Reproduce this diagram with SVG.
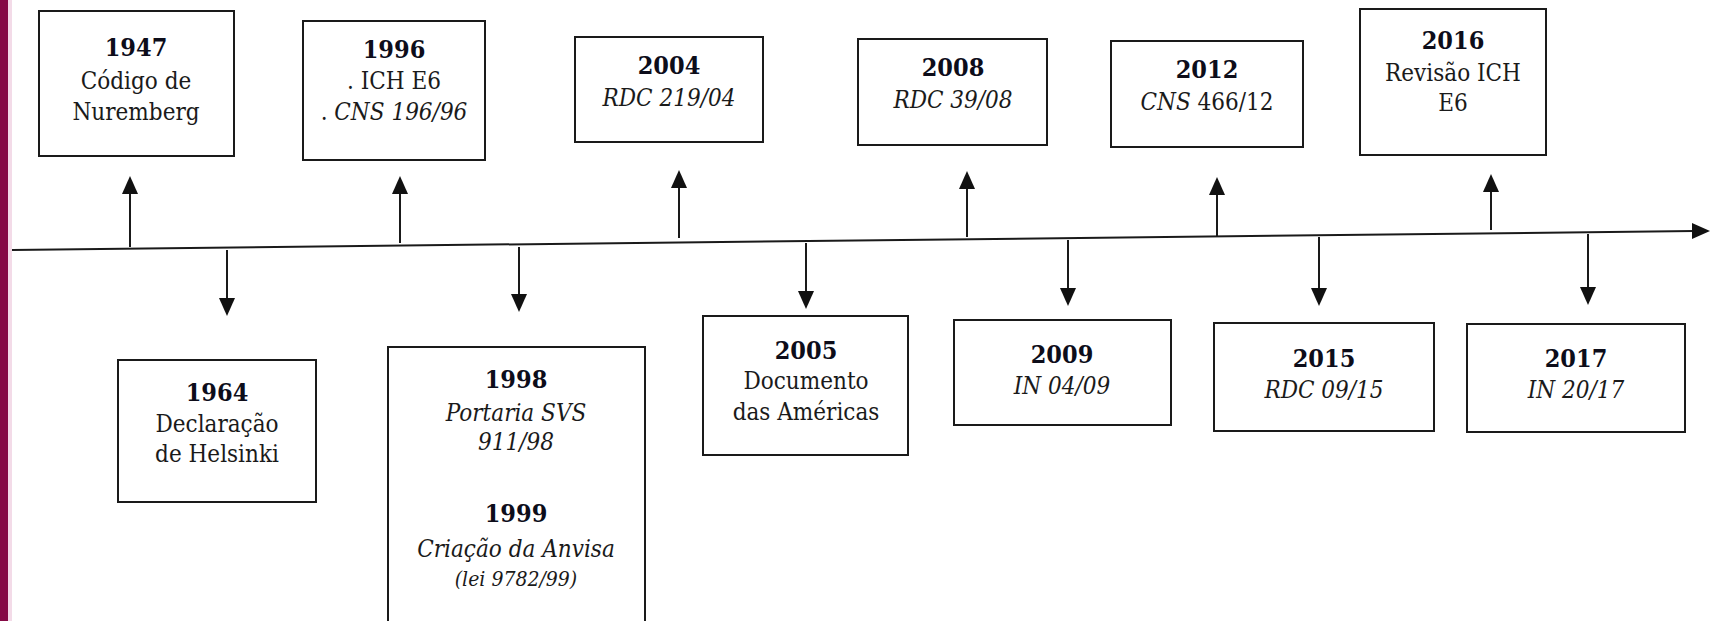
<svg xmlns="http://www.w3.org/2000/svg" width="1710" height="621" viewBox="0 0 1710 621">
<defs>
<style>
.box{fill:#fff;stroke:#1a1a1a;stroke-width:2}
.ln{stroke:#1a1a1a;stroke-width:2;fill:none}
.hd{fill:#111}
text{font-family:"DejaVu Serif Condensed","DejaVu Serif","Liberation Serif",serif;font-size:24px;fill:#1a1a1a;text-anchor:middle}
.y{font-weight:bold;font-size:25px;fill:#0d0d1a}
.i{font-style:italic}
.s{font-size:21px}
</style>
</defs>
<rect x="0" y="0" width="1710" height="621" fill="#fff"/>
<rect x="0" y="0" width="8" height="621" fill="#850a45"/>
<rect x="8" y="0" width="4" height="621" fill="#f3dbe8"/>
<g id="connectors">
<line class="ln" x1="12" y1="250" x2="1694" y2="231"/>
<polygon class="hd" points="1710,231 1692,223 1692,239"/>
<line class="ln" x1="130" y1="247" x2="130" y2="192"/>
<polygon class="hd" points="130,176 122,194 138,194"/>
<line class="ln" x1="400" y1="243" x2="400" y2="192"/>
<polygon class="hd" points="400,176 392,194 408,194"/>
<line class="ln" x1="679" y1="238" x2="679" y2="186"/>
<polygon class="hd" points="679,170 671,188 687,188"/>
<line class="ln" x1="967" y1="237" x2="967" y2="187"/>
<polygon class="hd" points="967,171 959,189 975,189"/>
<line class="ln" x1="1217" y1="236" x2="1217" y2="193"/>
<polygon class="hd" points="1217,177 1209,195 1225,195"/>
<line class="ln" x1="1491" y1="230" x2="1491" y2="190"/>
<polygon class="hd" points="1491,174 1483,192 1499,192"/>
<line class="ln" x1="227" y1="250" x2="227" y2="300"/>
<polygon class="hd" points="227,316 219,298 235,298"/>
<line class="ln" x1="519" y1="247" x2="519" y2="296"/>
<polygon class="hd" points="519,312 511,294 527,294"/>
<line class="ln" x1="806" y1="243" x2="806" y2="293"/>
<polygon class="hd" points="806,309 798,291 814,291"/>
<line class="ln" x1="1068" y1="240" x2="1068" y2="290"/>
<polygon class="hd" points="1068,306 1060,288 1076,288"/>
<line class="ln" x1="1319" y1="237" x2="1319" y2="290"/>
<polygon class="hd" points="1319,306 1311,288 1327,288"/>
<line class="ln" x1="1588" y1="234" x2="1588" y2="289"/>
<polygon class="hd" points="1588,305 1580,287 1596,287"/>
</g>
<g id="n1947">
<rect class="box" x="39" y="11" width="195" height="145"/>
<text class="y" x="136" y="56">1947</text>
<text x="136" y="89">Código de</text>
<text x="136" y="120">Nuremberg</text>
</g>
<g id="n1996">
<rect class="box" x="303" y="21" width="182" height="139"/>
<text class="y" x="394" y="58">1996</text>
<text x="394" y="89">. ICH E6</text>
<text x="394" y="120">. <tspan class="i">CNS 196/96</tspan></text>
</g>
<g id="n2004">
<rect class="box" x="575" y="37" width="188" height="105"/>
<text class="y" x="669" y="74">2004</text>
<text class="i" x="669" y="106">RDC 219/04</text>
</g>
<g id="n2008">
<rect class="box" x="858" y="39" width="189" height="106"/>
<text class="y" x="953" y="76">2008</text>
<text class="i" x="953" y="108">RDC 39/08</text>
</g>
<g id="n2012">
<rect class="box" x="1111" y="41" width="192" height="106"/>
<text class="y" x="1207" y="78">2012</text>
<text x="1207" y="110"><tspan class="i">CNS</tspan> 466/12</text>
</g>
<g id="n2016">
<rect class="box" x="1360" y="9" width="186" height="146"/>
<text class="y" x="1453" y="49">2016</text>
<text x="1453" y="81">Revisão ICH</text>
<text x="1453" y="111">E6</text>
</g>
<g id="n1964">
<rect class="box" x="118" y="360" width="198" height="142"/>
<text class="y" x="217" y="401">1964</text>
<text x="217" y="432">Declaração</text>
<text x="217" y="462">de Helsinki</text>
</g>
<g id="n1998">
<rect class="box" x="388" y="347" width="257" height="290"/>
<text class="y" x="516" y="388">1998</text>
<text class="i" x="516" y="421">Portaria SVS</text>
<text class="i" x="516" y="450">911/98</text>
<text class="y" x="516" y="522">1999</text>
<text class="i" x="516" y="557">Criação da Anvisa</text>
<text class="i s" x="516" y="586">(lei 9782/99)</text>
</g>
<g id="n2005">
<rect class="box" x="703" y="316" width="205" height="139"/>
<text class="y" x="806" y="359">2005</text>
<text x="806" y="389">Documento</text>
<text x="806" y="420">das Américas</text>
</g>
<g id="n2009">
<rect class="box" x="954" y="320" width="217" height="105"/>
<text class="y" x="1062" y="363">2009</text>
<text class="i" x="1062" y="394">IN 04/09</text>
</g>
<g id="n2015">
<rect class="box" x="1214" y="323" width="220" height="108"/>
<text class="y" x="1324" y="367">2015</text>
<text class="i" x="1324" y="398">RDC 09/15</text>
</g>
<g id="n2017">
<rect class="box" x="1467" y="324" width="218" height="108"/>
<text class="y" x="1576" y="367">2017</text>
<text class="i" x="1576" y="398">IN 20/17</text>
</g>
</svg>
